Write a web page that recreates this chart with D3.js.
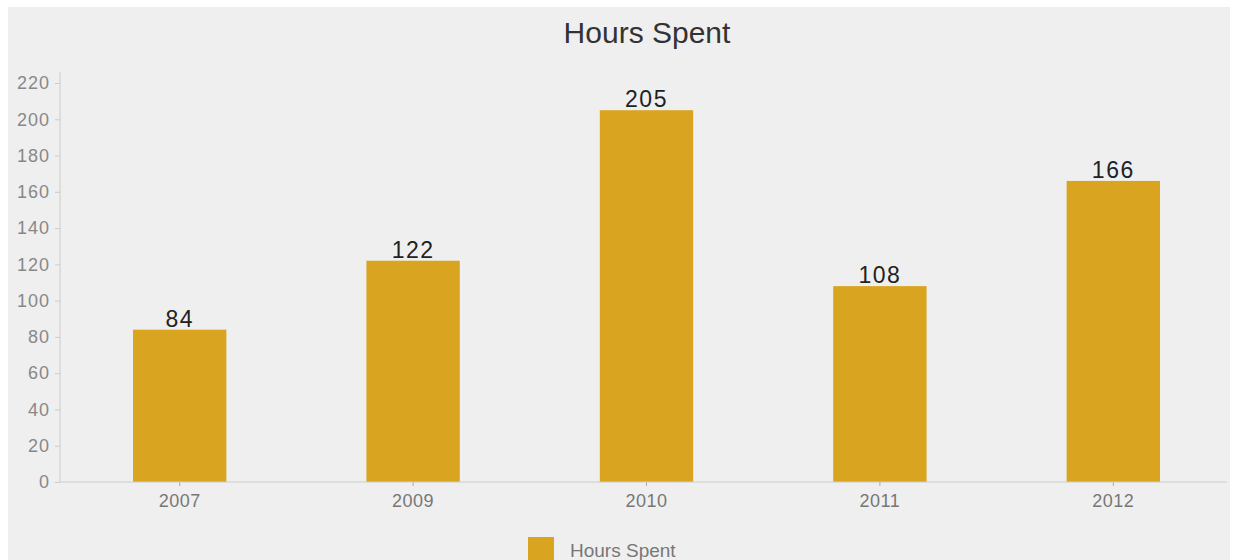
<!DOCTYPE html>
<html><head><meta charset="utf-8">
<script src="https://cdn.jsdelivr.net/npm/d3@7"></script>
<style>body{margin:0;background:#fff;font-family:"Liberation Sans",Arial,sans-serif}</style>
</head><body><svg id="c" width="1238" height="560"></svg>
<script>
const categories = ["2007","2009","2010","2011","2012"];
const values = [84,122,205,108,166];
const yTicks = [0,20,40,60,80,100,120,140,160,180,200,220];
const seriesName = "Hours Spent";
const title = "Hours Spent";

const svg = d3.select("#c");
svg.append("rect").attr("x",8).attr("y",7).attr("width",1222).attr("height",553).attr("fill","#efefef");

const left=60, right=1227, bottom=482;
const x = d3.scaleBand().domain(categories).range([left+3,right+3]).paddingInner(0.6).paddingOuter(0.3);
const y = d3.scaleLinear().domain([0,220]).range([bottom,83]);

svg.append("text").attr("x",647).attr("y",43).attr("text-anchor","middle")
  .attr("font-size",30).attr("fill","#333").text(title);

// y axis
const ya = svg.append("g").attr("transform",`translate(${left},0)`)
  .call(d3.axisLeft(y).tickValues(yTicks).tickSize(5).tickSizeOuter(0).tickPadding(5));
ya.select(".domain").remove();
ya.append("line").attr("x1",0).attr("x2",0).attr("y1",y(0)).attr("y2",y(226)).attr("stroke","#ccc");
ya.selectAll(".tick line").attr("stroke","#ccc");
ya.selectAll(".tick text").attr("fill","#888").attr("font-size",18).attr("letter-spacing",1)
  .attr("font-family","Liberation Sans, Arial, sans-serif");

// bars
svg.selectAll(".bar").data(values).enter().append("rect")
  .attr("x",(d,i)=>x(categories[i])).attr("width",x.bandwidth())
  .attr("y",d=>y(d)).attr("height",d=>bottom-y(d)).attr("fill","#d9a521");

// x axis
const xa = svg.append("g").attr("transform",`translate(0,${bottom})`)
  .call(d3.axisBottom(x).tickSize(4).tickSizeOuter(0).tickPadding(8));
xa.select(".domain").remove();
xa.append("line").attr("x1",left).attr("x2",right).attr("y1",0).attr("y2",0).attr("stroke","#ccc");
xa.selectAll(".tick line").attr("stroke","#aaa");
xa.selectAll(".tick text").attr("fill","#777").attr("font-size",18).attr("letter-spacing",0.5)
  .attr("font-family","Liberation Sans, Arial, sans-serif");

// value labels
svg.selectAll(".lbl").data(values).enter().append("text")
  .attr("x",(d,i)=>x(categories[i])+x.bandwidth()/2).attr("y",d=>y(d)-3)
  .attr("text-anchor","middle").attr("font-size",23).attr("letter-spacing",1.5).attr("fill","#222").text(d=>d);

// legend
svg.append("rect").attr("x",528).attr("y",537).attr("width",26).attr("height",23).attr("fill","#d9a521");
svg.append("text").attr("x",570).attr("y",557).attr("font-size",19).attr("fill","#777").text(seriesName);
</script></body></html>
